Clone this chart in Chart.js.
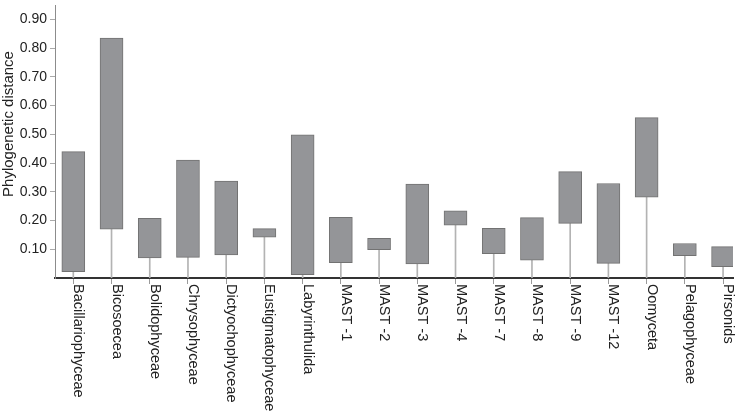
<!DOCTYPE html>
<html>
<head>
<meta charset="utf-8">
<script src="https://cdn.jsdelivr.net/npm/chart.js@4"></script>
<style>
  html, body { margin: 0; padding: 0; background: #ffffff; }
  #wrap { width: 738px; height: 416px; position: relative; }
</style>
</head>
<body>
<div id="wrap"><canvas id="c" width="738" height="416"></canvas></div>
<script>
const categories = ["Bacillariophyceae", "Bicosoecea", "Bolidophyceae", "Chrysophyceae",
  "Dictyochophyceae", "Eustigmatophyceae", "Labyrinthulida", "MAST -1", "MAST -2",
  "MAST -3", "MAST -4", "MAST -7", "MAST -8", "MAST -9", "MAST -12", "Oomyceta",
  "Pelagophyceae", "Pirsonids"];
const lowValues  = [0.022, 0.170, 0.070, 0.072, 0.080, 0.142, 0.012, 0.053, 0.099,
  0.049, 0.184, 0.085, 0.062, 0.190, 0.051, 0.281, 0.078, 0.039];
const highValues = [0.440, 0.835, 0.208, 0.410, 0.337, 0.172, 0.498, 0.211, 0.138,
  0.327, 0.234, 0.173, 0.210, 0.370, 0.329, 0.558, 0.120, 0.109];
const yTickValues = [0.10, 0.20, 0.30, 0.40, 0.50, 0.60, 0.70, 0.80, 0.90];
const yTitle = "Phylogenetic distance";

const FONT = '"Liberation Sans", Arial, Helvetica, sans-serif';

const labelPlugin = {
  id: 'customLabels',
  afterDraw(chart) {
    const ctx = chart.ctx;
    const xs = chart.scales.x;
    ctx.save();
    ctx.fillStyle = '#222222';
    ctx.font = '14.5px ' + FONT;
    ctx.textAlign = 'left';
    ctx.textBaseline = 'alphabetic';
    categories.forEach((cat, i) => {
      const px = xs.getPixelForValue(i);
      ctx.save();
      ctx.translate(px + 1, chart.chartArea.bottom + 6);
      ctx.rotate(Math.PI / 2);
      ctx.fillText(cat, 0, 0);
      ctx.restore();
    });
    ctx.font = '15px ' + FONT;
    ctx.translate(9, 124);
    ctx.rotate(-Math.PI / 2);
    ctx.textAlign = 'center';
    ctx.textBaseline = 'middle';
    ctx.fillText(yTitle, 0, 0);
    ctx.restore();
  }
};

new Chart(document.getElementById('c'), {
  type: 'bar',
  data: {
    datasets: [
      {
        label: 'range',
        data: categories.map((c, i) => ({ x: i, y: [lowValues[i], highValues[i]] })),
        backgroundColor: '#949598',
        borderColor: '#727272',
        borderWidth: 1,
        borderSkipped: false,
        barThickness: 23,
        grouped: false,
        order: 1
      },
      {
        label: 'stem',
        data: categories.map((c, i) => ({ x: i, y: [0, lowValues[i]] })),
        backgroundColor: '#b3b3b3',
        borderWidth: 0,
        barThickness: 1,
        grouped: false,
        order: 2
      }
    ]
  },
  options: {
    responsive: false,
    animation: false,
    devicePixelRatio: 1,
    layout: { padding: { top: 5, right: 5, bottom: 132, left: 0 } },
    plugins: { legend: { display: false }, tooltip: { enabled: false }, title: { display: false } },
    scales: {
      x: {
        type: 'linear',
        offset: false,
        min: -0.479,
        max: 17.26,
        afterBuildTicks: (s) => { s.ticks = categories.map((c, i) => ({ value: i })); },
        ticks: { display: false },
        grid: { offset: false, drawOnChartArea: false, drawTicks: true, tickLength: 6, color: '#9a9a9a', lineWidth: 1 },
        border: { display: true, color: '#333333', width: 2 }
      },
      y: {
        min: 0,
        max: 0.95,
        afterBuildTicks: (s) => { s.ticks = yTickValues.map(v => ({ value: v })); },
        afterFit: (s) => { s.width = 55; s.paddingTop = 0; s.paddingBottom = 0; },
        ticks: {
          callback: (v) => Number(v).toFixed(2),
          font: { size: 14, family: FONT },
          color: '#222222',
          padding: 3
        },
        grid: { drawOnChartArea: false, drawTicks: true, tickLength: 5, color: '#aaaaaa' },
        border: { display: true, color: '#8c8c8c', width: 1 }
      }
    }
  },
  plugins: [labelPlugin]
});
</script>
</body>
</html>
